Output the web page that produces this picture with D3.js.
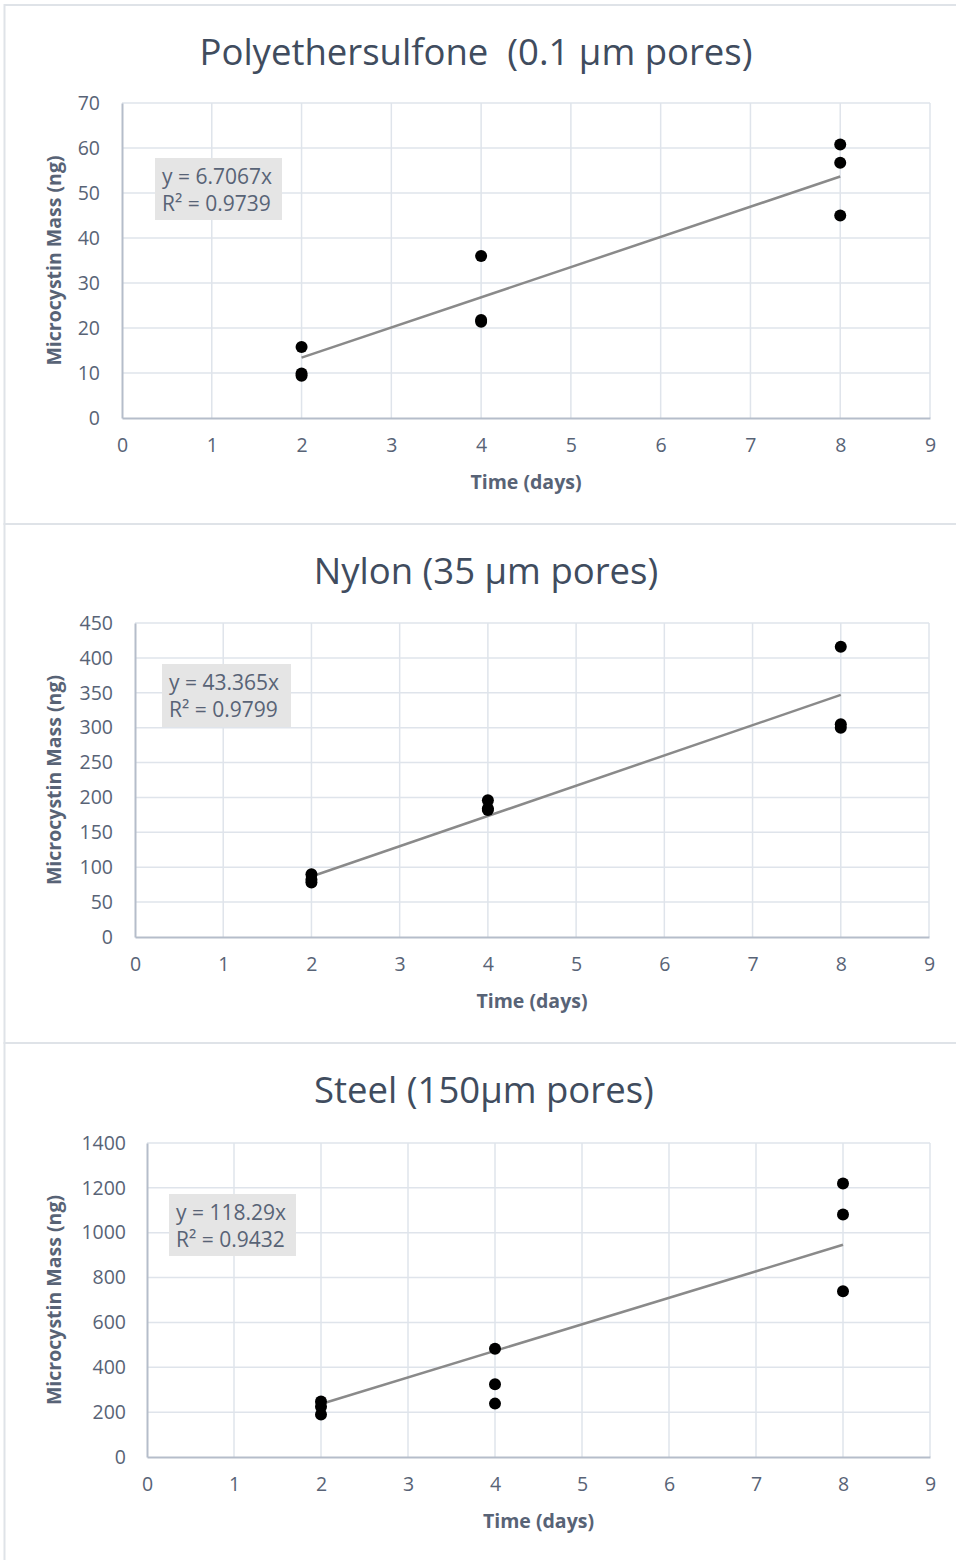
<!DOCTYPE html>
<html>
<head>
<meta charset="utf-8">
<script src="https://cdn.jsdelivr.net/npm/d3@7"></script>
<style>
  html, body { margin: 0; padding: 0; background: #fff; }
  svg { display: block; }
  text { font-family: "Open Sans", "Noto Sans", sans-serif; }
</style>
</head>
<body>
<script>
// ---- Data ----
const titles = ["Polyethersulfone  (0.1 \u00b5m pores)", "Nylon (35 \u00b5m pores)", "Steel (150\u00b5m pores)"];
const days = [2, 2, 2, 4, 4, 4, 8, 8, 8];
const pesMass = [15.8, 9.9, 9.4, 36.0, 21.8, 21.4, 60.8, 56.7, 45.0];
const nylonMass = [90, 82, 78, 196, 184, 182, 416, 305, 300];
const steelMass = [248, 224, 190, 483, 324, 238, 1219, 1081, 739];
const slopes = [6.7067, 43.365, 118.29];
const slopeLabels = ["6.7067", "43.365", "118.29"];
const r2Labels = ["0.9739", "0.9799", "0.9432"];
const yMaxes = [70, 450, 1400];
const ySteps = [10, 50, 200];
const xTicks = [0, 1, 2, 3, 4, 5, 6, 7, 8, 9];
const trendRange = [2, 8];
const xLabel = "Time (days)";
const yLabel = "Microcystin Mass (ng)";

const seriesList = [pesMass, nylonMass, steelMass];

// ---- Layout ----
const W = 956, H = 1560;
const panels = [
  { top: 5, bottom: 524, left: 122, right: 930, pTop: 103, pBot: 418, titleY: 64, titleX: 476, labRight: 100, box: [155, 158, 127, 62] },
  { top: 524, bottom: 1043, left: 135, right: 929, pTop: 623, pBot: 937, titleY: 583, titleX: 486, labRight: 113, box: [162, 664, 129, 63] },
  { top: 1043, bottom: 1562, left: 147, right: 930, pTop: 1143, pBot: 1457, titleY: 1102, titleX: 484, labRight: 126, box: [169, 1194, 127, 62] }
];

const textColor = "#586376";
const titleColor = "#404c5e";
const gridColor = "#dfe4eb";
const axisColor = "#b5bdca";

const svg = d3.select("body").append("svg").attr("width", W).attr("height", H);

panels.forEach((p, i) => {
  const g = svg.append("g");
  g.append("rect")
    .attr("x", 4.5).attr("y", p.top)
    .attr("width", W + 10).attr("height", p.bottom - p.top)
    .attr("fill", "#fff").attr("stroke", "#dfe3e8").attr("stroke-width", 2);

  const x = d3.scaleLinear().domain([0, 9]).range([p.left, p.right]);
  const y = d3.scaleLinear().domain([0, yMaxes[i]]).range([p.pBot, p.pTop]);
  const yTicks = d3.range(0, yMaxes[i] + ySteps[i] / 2, ySteps[i]);

  g.append("g").selectAll("line").data(yTicks.filter(v => v > 0)).join("line")
    .attr("x1", p.left).attr("x2", p.right)
    .attr("y1", d => y(d)).attr("y2", d => y(d))
    .attr("stroke", gridColor).attr("stroke-width", 1.5);
  g.append("g").selectAll("line").data(xTicks.filter(v => v > 0)).join("line")
    .attr("x1", d => x(d)).attr("x2", d => x(d))
    .attr("y1", p.pTop).attr("y2", p.pBot)
    .attr("stroke", gridColor).attr("stroke-width", 1.5);

  const xAxis = d3.axisBottom(x).tickValues(xTicks).tickSize(0).tickPadding(20).tickFormat(d3.format("d"));
  const gx = g.append("g").attr("transform", `translate(0,${p.pBot})`).call(xAxis);
  gx.select(".domain").attr("stroke", axisColor).attr("stroke-width", 2);
  gx.selectAll("text").attr("fill", textColor).attr("font-size", 19.5).attr("font-family", "Open Sans");

  const yAxis = d3.axisLeft(y).tickValues(yTicks).tickSize(0).tickPadding(p.left - p.labRight).tickFormat(d3.format("d"));
  const gy = g.append("g").attr("transform", `translate(${p.left},0)`).call(yAxis);
  gy.select(".domain").attr("stroke", axisColor).attr("stroke-width", 2);
  gy.selectAll("text").attr("fill", textColor).attr("font-size", 19.5).attr("font-family", "Open Sans");

  const tl = trendRange.map(d => [d, slopes[i] * d]);
  g.append("path")
    .attr("d", d3.line().x(d => x(d[0])).y(d => y(d[1]))(tl))
    .attr("stroke", "#8a8a8a").attr("stroke-width", 2.5).attr("fill", "none");

  const pts = days.map((d, k) => [d, seriesList[i][k]]);
  g.append("g").selectAll("circle").data(pts).join("circle")
    .attr("cx", d => x(d[0])).attr("cy", d => y(d[1])).attr("r", 6)
    .attr("fill", "#000");

  const [bx, by, bw, bh] = p.box;
  g.append("rect").attr("x", bx).attr("y", by).attr("width", bw).attr("height", bh).attr("fill", "#e5e5e5");
  g.append("text").attr("x", bx + 7).attr("y", by + 26).attr("fill", textColor).attr("font-size", 21)
    .text(`y = ${slopeLabels[i]}x`);
  g.append("text").attr("x", bx + 7).attr("y", by + 53).attr("fill", textColor).attr("font-size", 21)
    .text(`R\u00b2 = ${r2Labels[i]}`);

  g.append("text").attr("x", p.titleX).attr("y", p.titleY + 1)
    .attr("text-anchor", "middle").attr("fill", titleColor).attr("font-size", 36.5)
    .attr("xml:space", "preserve").style("white-space", "pre")
    .text(titles[i]);

  g.append("text").attr("x", (p.left + p.right) / 2).attr("y", p.pBot + 71)
    .attr("text-anchor", "middle").attr("fill", textColor).attr("font-size", 19.5).attr("font-weight", "bold")
    .text(xLabel);
  g.append("text")
    .attr("transform", `translate(${61},${(p.pTop + p.pBot) / 2}) rotate(-90)`)
    .attr("text-anchor", "middle").attr("fill", textColor).attr("font-size", 19.5).attr("font-weight", "bold")
    .text(yLabel);
});
</script>
</body>
</html>
